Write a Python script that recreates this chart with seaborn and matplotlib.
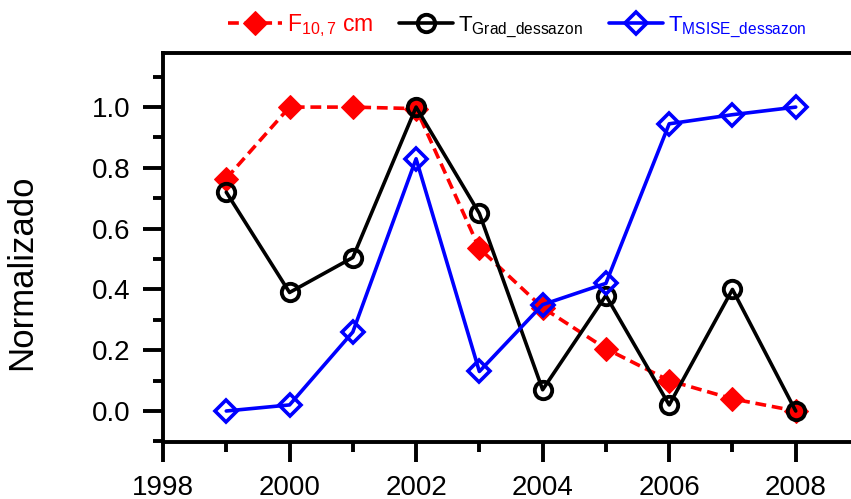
import numpy as np
import pandas as pd
import matplotlib
matplotlib.use('Agg')
import matplotlib.pyplot as plt
import seaborn as sns
from matplotlib.ticker import MultipleLocator

# Values
years = [1999, 2000, 2001, 2002, 2003, 2004, 2005, 2006, 2007, 2008]
f107 = [0.765, 1.0, 1.0, 0.995, 0.535, 0.34, 0.205, 0.10, 0.04, 0.0]
t_grad = [0.72, 0.39, 0.505, 1.0, 0.65, 0.07, 0.38, 0.02, 0.40, 0.0]
t_msise = [0.0, 0.02, 0.26, 0.83, 0.13, 0.35, 0.42, 0.945, 0.975, 1.0]

labels = [r'$\mathregular{F_{10,7}}$ cm',
          r'$\mathregular{T_{Grad\_dessazon}}$',
          r'$\mathregular{T_{MSISE\_dessazon}}$']

sns.set_style('ticks')
plt.rcParams['font.family'] = ['Liberation Sans', 'DejaVu Sans']
plt.rcParams['mathtext.fontset'] = 'custom'
plt.rcParams['mathtext.rm'] = 'Liberation Sans'
plt.rcParams['mathtext.it'] = 'Liberation Sans:italic'
plt.rcParams['mathtext.bf'] = 'Liberation Sans:bold'
for k in ['text.color', 'axes.labelcolor', 'xtick.color', 'ytick.color', 'axes.edgecolor']:
    plt.rcParams[k] = 'black'

df = pd.DataFrame({'year': years, 'f107': f107, 'grad': t_grad, 'msise': t_msise})

fig = plt.figure(figsize=(8.51, 4.99), dpi=100)
ax = fig.add_axes([163 / 851, 1 - 442 / 499, (859 - 163) / 851, (442 - 52.7) / 499])

sns.lineplot(data=df, x='year', y='f107', ax=ax, color='red', linestyle='--',
             linewidth=2.6, marker='D', markersize=12, markeredgecolor='red',
             markerfacecolor='red', label=labels[0])
ax.lines[-1].set_dashes([3, 1.6])
sns.lineplot(data=df, x='year', y='grad', ax=ax, color='black', linewidth=2.6,
             marker='o', markersize=12.5, markerfacecolor='none',
             markeredgecolor='black', markeredgewidth=2.8, label=labels[1])
sns.lineplot(data=df, x='year', y='msise', ax=ax, color='#0000ff', linewidth=2.6,
             marker='D', markersize=11.5, markerfacecolor='none',
             markeredgecolor='#0000ff', markeredgewidth=2.6, label=labels[2])

ax.set_xlim(1998, 2009)
ax.set_ylim(-0.102, 1.179)
ax.xaxis.set_major_locator(MultipleLocator(2))
ax.xaxis.set_minor_locator(MultipleLocator(1))
ax.yaxis.set_minor_locator(MultipleLocator(0.1))
ax.yaxis.set_major_formatter(matplotlib.ticker.FormatStrFormatter('%.1f'))
ax.set_yticks([0.0, 0.2, 0.4, 0.6, 0.8, 1.0])

for s in ax.spines.values():
    s.set_linewidth(2.8)
ax.tick_params(which='major', direction='out', length=14.5, width=2.8,
               labelsize=20, pad=9)
ax.tick_params(which='minor', direction='out', length=7.5, width=2.8)

ax.set_xlabel('')
ax.set_ylabel('Normalizado', fontsize=25)
ax.yaxis.set_label_coords(-0.18, 0.437)

handles, lbls = ax.get_legend_handles_labels()
ax.get_legend().remove()
leg = fig.legend(handles, lbls, loc='center', bbox_to_anchor=(0.6075, 0.948),
                 ncol=3, frameon=False, fontsize=17, handlelength=2.3,
                 handletextpad=0.2, columnspacing=1.1, borderaxespad=0)
colors = ['red', 'black', '#0000ff']
sizes = [16.5, 16, 16]
for t, c, sz in zip(leg.get_texts(), colors, sizes):
    t.set_color(c)
    t.set_fontsize(sz)

fig.savefig('out.png', dpi=100)
